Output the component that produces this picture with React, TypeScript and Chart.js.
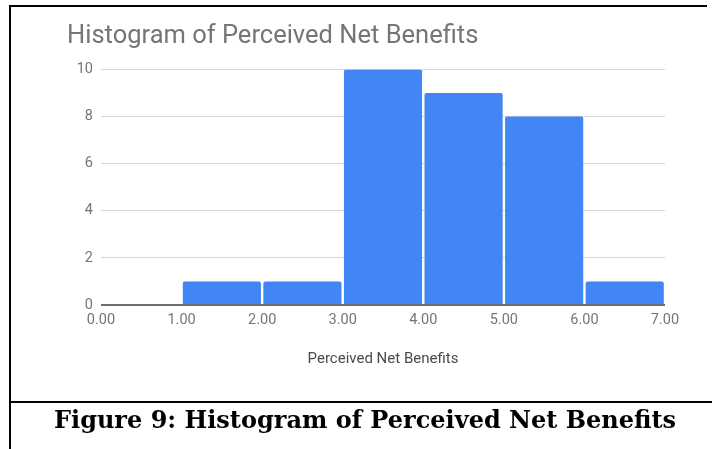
import React, { useEffect, useRef } from "react";
import { Chart, registerables } from "chart.js";

Chart.register(...registerables);

const chartTitle = "Histogram of Perceived Net Benefits";
const axisTitle = "Perceived Net Benefits";
const caption = "Figure 9: Histogram of Perceived Net Benefits";
const binEdges = [0, 1, 2, 3, 4, 5, 6, 7];
const counts = [0, 1, 1, 10, 9, 8, 1];
const yTicks = [0, 2, 4, 6, 8, 10];

export default function App() {
  const ref = useRef<HTMLCanvasElement | null>(null);

  useEffect(() => {
    if (!ref.current) return;
    const points = counts.map((c, i) => ({ x: (binEdges[i] + binEdges[i + 1]) / 2, y: c }));
    const chart = new Chart(ref.current, {
      type: "bar",
      data: {
        datasets: [
          {
            data: points as any,
            backgroundColor: "#4285F4",
            borderRadius: { topLeft: 2, topRight: 2, bottomLeft: 0, bottomRight: 0 },
            borderSkipped: "start",
            barPercentage: 0.97,
            categoryPercentage: 1,
          },
        ],
      },
      options: {
        animation: false,
        responsive: false,
        layout: { padding: { left: 67, right: 47, top: 0, bottom: 31.7 } },
        plugins: {
          legend: { display: false },
          tooltip: { enabled: false },
          title: {
            display: true,
            text: chartTitle,
            align: "start",
            color: "#757575",
            font: { family: "Roboto", size: 25.5, weight: "normal" },
            padding: { top: 21.6, bottom: 17.3 },
          },
        },
        scales: {
          x: {
            type: "linear",
            min: binEdges[0],
            max: binEdges[binEdges.length - 1],
            offset: false,
            grid: { display: false, drawTicks: false, offset: false },
            border: { display: false },
            ticks: {
              stepSize: 1,
              padding: 7,
              color: "#757575",
              font: { family: "Roboto", size: 14.5 },
              callback: (v: any) => Number(v).toFixed(2),
            },
            title: {
              display: true,
              text: axisTitle,
              color: "#4a4a4a",
              font: { family: "Roboto", size: 15 },
              padding: { top: 0, bottom: 0 },
            },
            afterFit: (s: any) => {
              s.height = 63.3;
            },
          },
          y: {
            min: yTicks[0],
            max: yTicks[yTicks.length - 1],
            grid: {
              drawTicks: false,
              color: (ctx: any) => (ctx.tick && ctx.tick.value === 0 ? "#6e6e6e" : "#d6d6d6"),
              lineWidth: (ctx: any) => (ctx.tick && ctx.tick.value === 0 ? 2 : 1),
            },
            border: { display: false },
            ticks: {
              stepSize: 2,
              padding: 8,
              color: "#757575",
              font: { family: "Roboto", size: 14.5 },
            },
            afterFit: (s: any) => {
              s.width = 34;
            },
          },
        },
      },
    });
    return () => chart.destroy();
  }, []);

  return (
    <div
      style={{
        position: "absolute",
        left: 0,
        top: 0,
        width: 712,
        height: 449,
        overflow: "hidden",
        background: "#ffffff",
      }}
    >
      <canvas
        ref={ref}
        width={712}
        height={400}
        style={{ position: "absolute", left: 0, top: 0, width: 712, height: 400 }}
      />
      <div style={{ position: "absolute", left: 9, top: 5, width: 698, height: 2, background: "#000" }} />
      <div style={{ position: "absolute", left: 9, top: 5, width: 2, height: 444, background: "#000" }} />
      <div style={{ position: "absolute", left: 9, top: 401, width: 703, height: 2, background: "#000" }} />
      <div
        style={{
          position: "absolute",
          left: 11,
          top: 404.6,
          width: 708,
          textAlign: "center",
          fontFamily: "'DejaVu Serif', serif",
          fontWeight: "bold",
          fontSize: 24,
          lineHeight: "30px",
          color: "#000",
          whiteSpace: "nowrap",
        }}
      >
        {caption}
      </div>
    </div>
  );
}
